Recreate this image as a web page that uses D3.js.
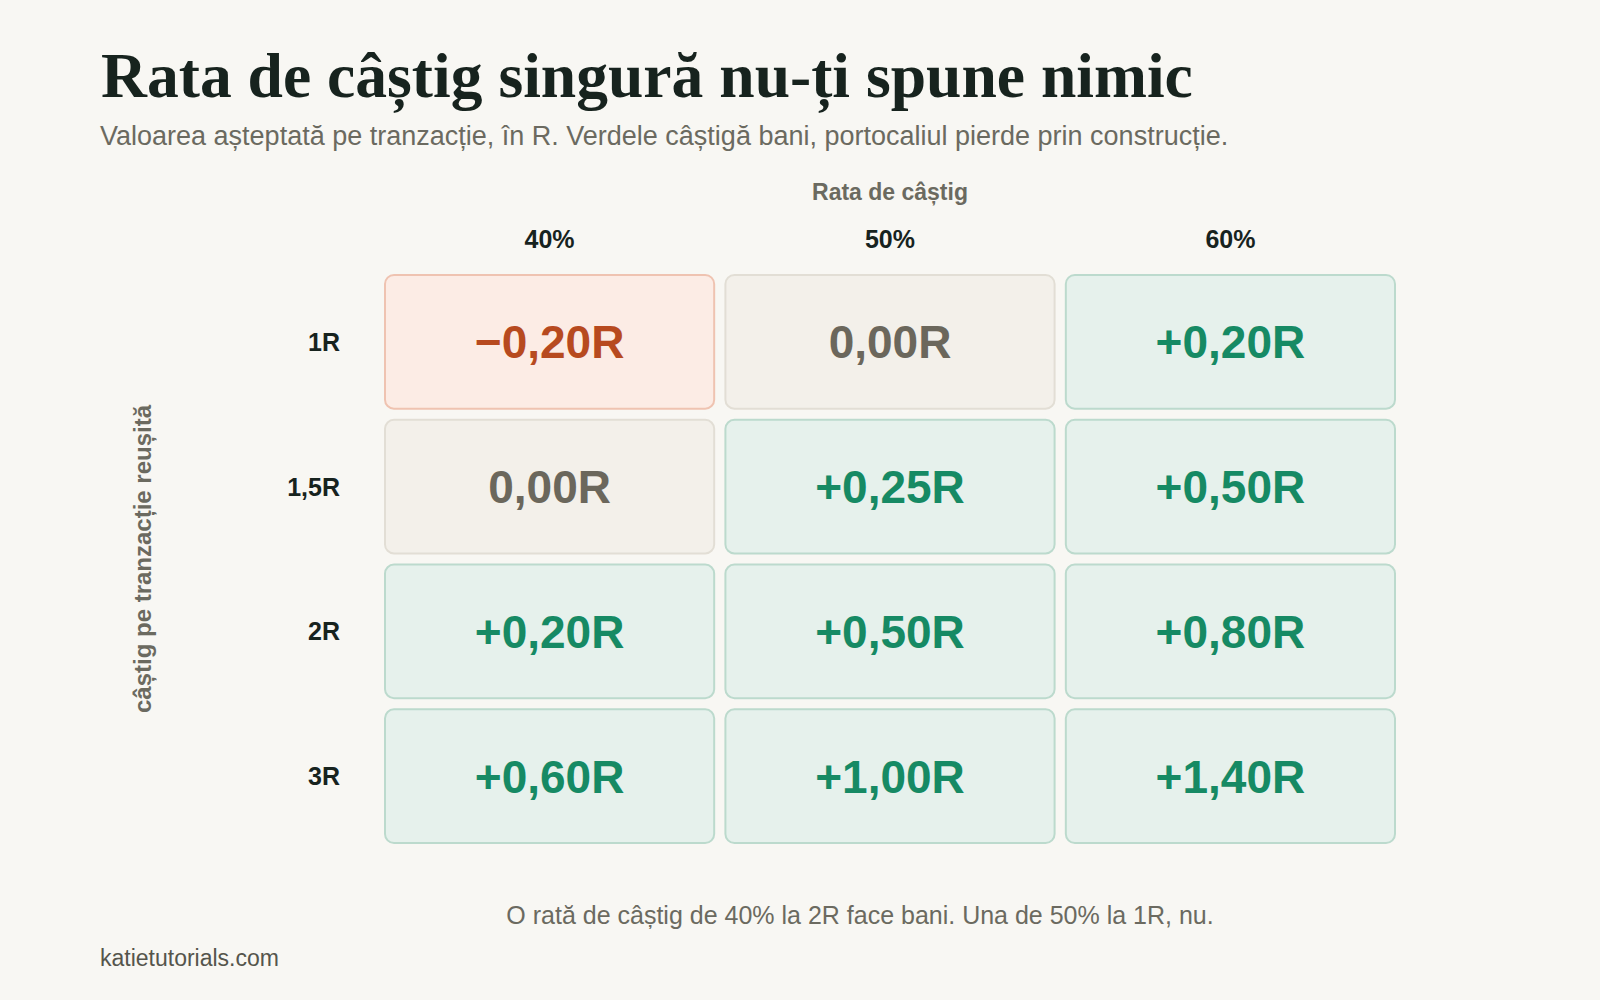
<!DOCTYPE html>
<html>
<head>
<meta charset="utf-8">
<script src="https://cdn.jsdelivr.net/npm/d3@7"></script>
<style>
  html, body { margin: 0; padding: 0; background: #f8f7f3; }
  svg { display: block; }
</style>
</head>
<body>
<div id="chart"></div>
<script>
// chart values
var winRates = ["40%", "50%", "60%"];
var rewards = ["1R", "1,5R", "2R", "3R"];
var expectancy = [
  [-0.20, 0.00, 0.20],
  [0.00, 0.25, 0.50],
  [0.20, 0.50, 0.80],
  [0.60, 1.00, 1.40]
];

var svgWidth = 1600;
var svgHeight = 1000;

var grid = { left: 385, right: 1395, top: 275, bottom: 843 };

var svg = d3.select("#chart")
  .append("svg")
  .attr("width", svgWidth)
  .attr("height", svgHeight);

svg.append("rect")
  .attr("width", svgWidth)
  .attr("height", svgHeight)
  .attr("fill", "#f8f7f3");

// title + subtitle
svg.append("text")
  .attr("x", 101)
  .attr("y", 97)
  .attr("font-family", "'Liberation Serif', serif")
  .attr("font-weight", "bold")
  .attr("font-size", "63.6px")
  .attr("fill", "#17231e")
  .text("Rata de câștig singură nu-ți spune nimic");

svg.append("text")
  .attr("x", 100)
  .attr("y", 145)
  .attr("font-family", "'Liberation Sans', Arial, sans-serif")
  .attr("font-size", "27px")
  .attr("fill", "#6b6a60")
  .text("Valoarea așteptată pe tranzacție, în R. Verdele câștigă bani, portocaliul pierde prin construcție.");

// scales
var xScale = d3.scaleBand()
  .domain(winRates)
  .range([grid.left, grid.right])
  .paddingInner(0.033);

var yScale = d3.scaleBand()
  .domain(rewards)
  .range([grid.top, grid.bottom])
  .paddingInner(0.077);

// build cell list
var cells = [];
rewards.forEach(function(r, i) {
  winRates.forEach(function(w, j) {
    cells.push({ reward: r, rate: w, value: expectancy[i][j] });
  });
});

function cellStyle(v) {
  if (v > 0) return { fill: "#e6f1ec", stroke: "#bcdacd", text: "#168a64" };
  if (v < 0) return { fill: "#fcece5", stroke: "#efc3b1", text: "#b74a1f" };
  return { fill: "#f3f0ea", stroke: "#e2ded5", text: "#6b675c" };
}

function fmt(v) {
  var s = Math.abs(v).toFixed(2).replace(".", ",") + "R";
  if (v > 0) return "+" + s;
  if (v < 0) return "\u2212" + s;
  return s;
}

var cellGroup = svg.append("g");

cellGroup.selectAll(".cell")
  .data(cells)
  .enter()
  .append("rect")
  .attr("class", "cell")
  .attr("x", d => xScale(d.rate))
  .attr("y", d => yScale(d.reward))
  .attr("width", xScale.bandwidth())
  .attr("height", yScale.bandwidth())
  .attr("rx", 9)
  .attr("ry", 9)
  .attr("fill", d => cellStyle(d.value).fill)
  .attr("stroke", d => cellStyle(d.value).stroke)
  .attr("stroke-width", 2);

cellGroup.selectAll(".cellText")
  .data(cells)
  .enter()
  .append("text")
  .attr("class", "cellText")
  .attr("x", d => xScale(d.rate) + xScale.bandwidth() / 2)
  .attr("y", d => yScale(d.reward) + yScale.bandwidth() / 2)
  .attr("dy", "0.36em")
  .attr("text-anchor", "middle")
  .attr("font-family", "'Liberation Sans', Arial, sans-serif")
  .attr("font-weight", "bold")
  .attr("font-size", "46px")
  .attr("fill", d => cellStyle(d.value).text)
  .text(d => fmt(d.value));

// column labels
svg.append("g").selectAll("text")
  .data(winRates)
  .enter()
  .append("text")
  .attr("x", d => xScale(d) + xScale.bandwidth() / 2)
  .attr("y", 248)
  .attr("text-anchor", "middle")
  .attr("font-family", "'Liberation Sans', Arial, sans-serif")
  .attr("font-weight", "bold")
  .attr("font-size", "25px")
  .attr("fill", "#17231e")
  .text(d => d);

svg.append("text")
  .attr("x", (grid.left + grid.right) / 2)
  .attr("y", 200)
  .attr("text-anchor", "middle")
  .attr("font-family", "'Liberation Sans', Arial, sans-serif")
  .attr("font-weight", "bold")
  .attr("font-size", "23px")
  .attr("fill", "#6b6a60")
  .text("Rata de câștig");

// row labels
svg.append("g").selectAll("text")
  .data(rewards)
  .enter()
  .append("text")
  .attr("x", 340)
  .attr("y", d => yScale(d) + yScale.bandwidth() / 2)
  .attr("dy", "0.36em")
  .attr("text-anchor", "end")
  .attr("font-family", "'Liberation Sans', Arial, sans-serif")
  .attr("font-weight", "bold")
  .attr("font-size", "25px")
  .attr("fill", "#17231e")
  .text(d => d);

svg.append("text")
  .attr("transform", `translate(151, ${(grid.top + grid.bottom) / 2}) rotate(-90)`)
  .attr("text-anchor", "middle")
  .attr("font-family", "'Liberation Sans', Arial, sans-serif")
  .attr("font-weight", "bold")
  .attr("font-size", "24px")
  .attr("fill", "#6b6a60")
  .text("câștig pe tranzacție reușită");

// footnote + source
svg.append("text")
  .attr("x", 860)
  .attr("y", 924)
  .attr("text-anchor", "middle")
  .attr("font-family", "'Liberation Sans', Arial, sans-serif")
  .attr("font-size", "25px")
  .attr("fill", "#6b6a60")
  .text("O rată de câștig de 40% la 2R face bani. Una de 50% la 1R, nu.");

svg.append("text")
  .attr("x", 100)
  .attr("y", 966)
  .attr("font-family", "'Liberation Sans', Arial, sans-serif")
  .attr("font-size", "23px")
  .attr("fill", "#55554c")
  .text("katietutorials.com");
</script>
</body>
</html>
